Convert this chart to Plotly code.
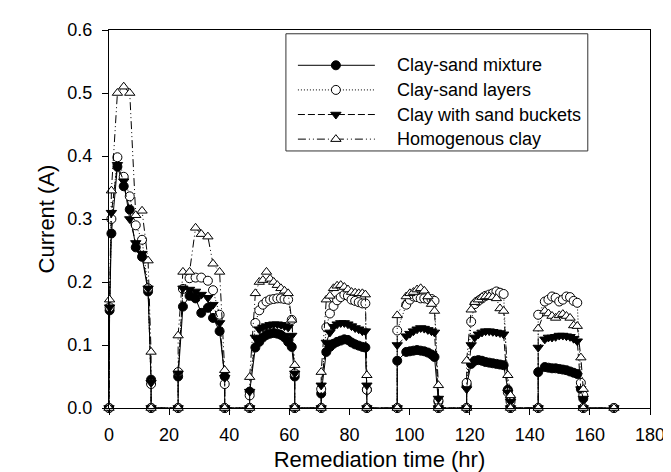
import plotly.graph_objects as go

# remediation time (hr); one line per power-on cycle, last point is the final off reading
hours = (
    [0, 0.2, 0.8, 2.8, 4.9, 6.9, 8.9, 11.0, 13.0, 14.0, 14.0]
    + [23.0, 23.0, 24.6, 26.8, 28.8, 30.7, 32.9, 34.6, 36.8, 38.5, 38.5]
    + [46.8, 46.8, 48.7, 50.0, 51.2, 52.4, 53.6, 54.8, 56.0, 57.2, 58.4, 59.6, 60.8, 61.8, 61.8]
    + [70.6, 70.6, 72.3, 73.5, 74.7, 75.9, 77.1, 78.3, 79.5, 80.7, 81.9, 83.1, 84.3, 85.3, 85.8, 85.8]
    + [95.9, 95.9, 98.9, 100.1, 101.3, 102.5, 103.7, 104.9, 106.1, 107.3, 108.3, 109.6, 109.6]
    + [119.0, 119.0, 120.5, 121.7, 122.9, 124.1, 125.3, 126.5, 127.7, 128.9, 130.1, 131.3, 132.7, 133.6, 133.6]
    + [142.8, 142.8, 145.0, 146.2, 147.4, 148.6, 149.8, 151.0, 152.2, 153.4, 154.6, 155.8, 157.0, 157.8, 157.8]
    + [168.0]
)

mixture = (
    [0, 0.155, 0.277, 0.383, 0.352, 0.315, 0.255, 0.240, 0.185, 0.045, 0]
    + [0, 0.050, 0.161, 0.178, 0.174, 0.151, 0.159, 0.143, 0.122, 0.050, 0]
    + [0, 0.026, 0.096, 0.105, 0.112, 0.116, 0.118, 0.119, 0.118, 0.116, 0.112, 0.105, 0.097, 0.050, 0]
    + [0, 0.023, 0.089, 0.097, 0.102, 0.105, 0.107, 0.109, 0.108, 0.104, 0.101, 0.099, 0.097, 0.096, 0.029, 0]
    + [0, 0.075, 0.089, 0.090, 0.091, 0.092, 0.091, 0.090, 0.088, 0.085, 0.081, 0.010, 0]
    + [0, 0.036, 0.070, 0.075, 0.076, 0.075, 0.073, 0.072, 0.071, 0.070, 0.069, 0.068, 0.029, 0.015, 0]
    + [0, 0.057, 0.065, 0.064, 0.063, 0.063, 0.062, 0.061, 0.060, 0.058, 0.056, 0.054, 0.030, 0.015, 0]
    + [0]
)

layers = (
    [0, 0.160, 0.300, 0.398, 0.367, 0.336, 0.290, 0.267, 0.190, 0.038, 0]
    + [0, 0.057, 0.189, 0.206, 0.207, 0.207, 0.202, 0.187, 0.148, 0.038, 0]
    + [0, 0.020, 0.135, 0.155, 0.164, 0.169, 0.172, 0.173, 0.174, 0.174, 0.173, 0.172, 0.140, 0.055, 0]
    + [0, 0.030, 0.128, 0.150, 0.162, 0.171, 0.176, 0.180, 0.178, 0.172, 0.170, 0.168, 0.166, 0.166, 0.029, 0]
    + [0, 0.123, 0.164, 0.172, 0.177, 0.176, 0.174, 0.174, 0.173, 0.173, 0.170, 0.012, 0]
    + [0, 0.040, 0.137, 0.165, 0.170, 0.174, 0.178, 0.180, 0.182, 0.185, 0.183, 0.181, 0.025, 0.010, 0]
    + [0, 0.148, 0.169, 0.172, 0.177, 0.175, 0.169, 0.172, 0.177, 0.176, 0.170, 0.167, 0.040, 0.020, 0]
    + [0]
)

buckets = (
    [0, 0.160, 0.310, 0.386, 0.360, 0.300, 0.262, 0.245, 0.190, 0.040, 0]
    + [0, 0.055, 0.190, 0.188, 0.185, 0.180, 0.175, 0.164, 0.135, 0.048, 0]
    + [0, 0.026, 0.112, 0.125, 0.128, 0.130, 0.132, 0.133, 0.133, 0.132, 0.130, 0.128, 0.115, 0.055, 0]
    + [0, 0.036, 0.104, 0.120, 0.129, 0.133, 0.135, 0.135, 0.133, 0.130, 0.127, 0.125, 0.122, 0.122, 0.036, 0]
    + [0, 0.100, 0.114, 0.118, 0.122, 0.125, 0.127, 0.126, 0.124, 0.122, 0.120, 0.015, 0]
    + [0, 0.030, 0.100, 0.112, 0.117, 0.120, 0.122, 0.122, 0.121, 0.120, 0.119, 0.117, 0.025, 0.010, 0]
    + [0, 0.096, 0.109, 0.112, 0.112, 0.113, 0.115, 0.115, 0.114, 0.113, 0.110, 0.106, 0.030, 0.015, 0]
    + [0]
)

homogenous = (
    [0, 0.172, 0.345, 0.500, 0.510, 0.500, 0.306, 0.313, 0.234, 0.089, 0]
    + [0, 0.115, 0.216, 0.216, 0.286, 0.276, 0.272, 0.229, 0.216, 0.060, 0]
    + [0, 0.049, 0.182, 0.200, 0.203, 0.216, 0.205, 0.200, 0.195, 0.190, 0.186, 0.182, 0.140, 0.068, 0]
    + [0, 0.057, 0.172, 0.178, 0.190, 0.194, 0.195, 0.192, 0.188, 0.184, 0.183, 0.182, 0.182, 0.180, 0.052, 0]
    + [0, 0.147, 0.177, 0.182, 0.184, 0.188, 0.190, 0.186, 0.177, 0.165, 0.154, 0.036, 0]
    + [0, 0.075, 0.156, 0.168, 0.172, 0.176, 0.177, 0.177, 0.176, 0.174, 0.158, 0.154, 0.052, 0.020, 0]
    + [0, 0.126, 0.154, 0.150, 0.146, 0.143, 0.147, 0.149, 0.146, 0.143, 0.131, 0.130, 0.080, 0.030, 0]
    + [0]
)

series = [
    ("Clay-sand mixture", mixture, "solid", "circle", "black"),
    ("Clay-sand layers", layers, "1px,2px", "circle", "white"),
    ("Clay with sand buckets", buckets, "7px,3px", "triangle-down", "black"),
    ("Homogenous clay", homogenous, "8px,3px,1px,3px,1px,3px", "triangle-up", "white"),
]

FONT = "Liberation Sans, Arial"

fig = go.Figure()
for name, values, dash, symbol, fill in series:
    fig.add_scatter(
        x=hours,
        y=values,
        name=name,
        mode="lines+markers",
        line=dict(color="black", width=1, dash=dash),
        marker=dict(symbol=symbol, size=9, color=fill, line=dict(color="black", width=1)),
        cliponaxis=False,
        showlegend=False,
    )

# legend drawn on its own small overlay axes (units ~ pixels) so the sample lines can be long
for i, (name, values, dash, symbol, fill) in enumerate(series):
    row = 32 + 25 * i
    fig.add_scatter(
        x=[12, 89],
        y=[row, row],
        mode="lines",
        line=dict(color="black", width=1, dash=dash),
        xaxis="x2",
        yaxis="y2",
        showlegend=False,
        hoverinfo="skip",
    )
    fig.add_scatter(
        x=[50],
        y=[row],
        mode="markers",
        marker=dict(symbol=symbol, size=9, color=fill, line=dict(color="black", width=1)),
        xaxis="x2",
        yaxis="y2",
        showlegend=False,
        hoverinfo="skip",
    )
    fig.add_annotation(
        x=109, y=row, xref="x2", yref="y2", text=name, showarrow=False,
        xanchor="left", yanchor="middle", font=dict(family=FONT, size=18, color="black"),
    )

fig.add_shape(
    type="rect", xref="x2 domain", yref="y2 domain", x0=0, x1=1, y0=0, y1=1,
    line=dict(color="#333333", width=1), fillcolor="rgba(0,0,0,0)",
)

axis_style = dict(
    showline=True,
    linecolor="black",
    linewidth=1,
    mirror=True,
    ticks="outside",
    ticklen=6,
    tickcolor="black",
    showgrid=False,
    zeroline=False,
)

fig.update_layout(
    width=671,
    height=472,
    margin=dict(l=101, r=29, t=16, b=72),
    paper_bgcolor="white",
    plot_bgcolor="white",
    font=dict(family=FONT, size=18, color="black"),
    xaxis=dict(range=[0, 180], dtick=20, ticklabelstandoff=4,
               title=dict(text="Remediation time (hr)", standoff=8), **axis_style),
    yaxis=dict(range=[0, 0.6], dtick=0.1, tickformat=".1f", ticklabelstandoff=6,
               title=dict(text="Current (A)", standoff=6), **axis_style),
    xaxis2=dict(domain=[0.327, 0.885], range=[0, 302], visible=False, fixedrange=True),
    yaxis2=dict(domain=[0.68, 0.99], range=[119, 0], visible=False, fixedrange=True),
    showlegend=False,
)

fig.write_html("out.html")
